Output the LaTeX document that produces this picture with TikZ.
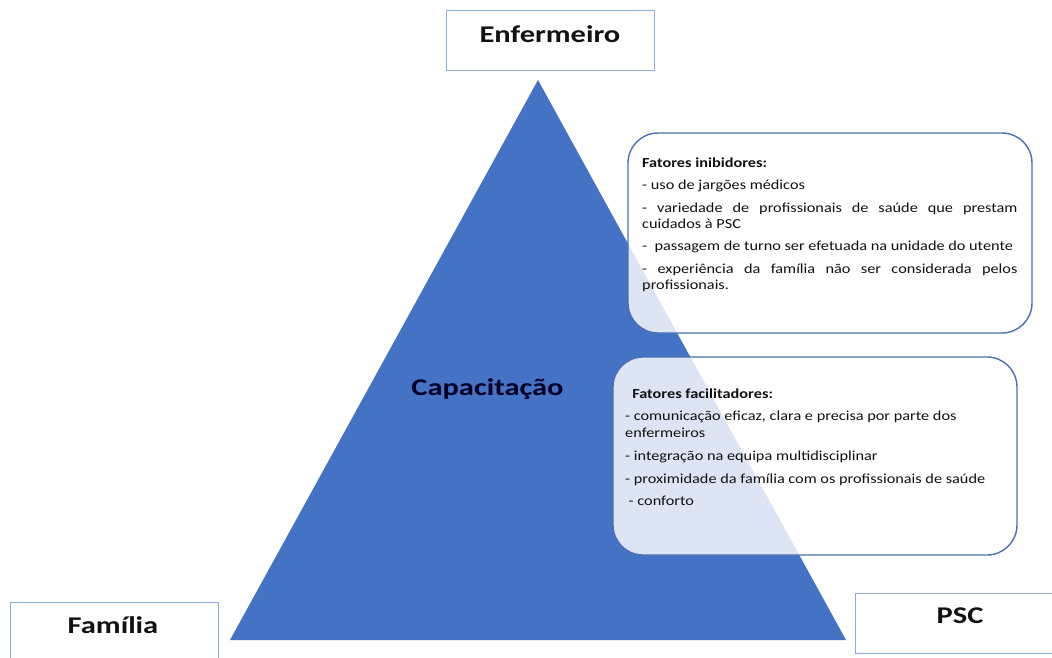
\documentclass[tikz,border=0pt]{standalone}
\usepackage{fontspec}
\setmainfont{Carlito}
\definecolor{triblue}{HTML}{4472C4}
\definecolor{edgeblue}{HTML}{8FAADC}
\definecolor{boxedge}{HTML}{4A6FB5}
\definecolor{labelink}{HTML}{111111}
\newcommand{\widelabel}[1]{\scalebox{1.27}[1]{\fontsize{24}{28}\selectfont\bfseries #1}}
\begin{document}
\begin{tikzpicture}[x=1pt,y=-1pt,
  labelbox/.style={draw=edgeblue,line width=1pt,fill=white},
  labeltext/.style={anchor=base,inner sep=0pt,text=labelink},
  softbox/.style={draw=boxedge,line width=1.4pt,fill=white,fill opacity=0.82,rounded corners=30pt},
  boxtext/.style={anchor=north west,inner sep=0pt,text=labelink}
]
\useasboundingbox (0,0) rectangle (1052,657);
\fill[white] (0,0) rectangle (1052,657);
% triangle
\fill[triblue] (538,80) coordinate (apex) -- (230,640) coordinate (bl) -- (846,640) coordinate (br) -- cycle;
\node[labeltext,text=black!85!blue] (cap) at (487.5,395) {\widelabel{Capacitação}};
% label boxes
\draw[labelbox] (446,10) rectangle (654,70);
\node[labeltext] (enf) at (550,42) {\widelabel{Enfermeiro}};
\draw[labelbox] (10,602) rectangle (218,662);
\node[labeltext] (fam) at (113,633) {\widelabel{Família}};
\draw[labelbox] (855,593) rectangle (1058,653);
\node[labeltext] (psc) at (960,623) {\widelabel{PSC}};
% factor boxes
\draw[softbox] (628,133) rectangle (1032,333);
\node[boxtext] (inib) at (642,157.5) {\scalebox{1.18}[1]{\parbox[t]{318pt}{%
\fontsize{13.8}{16.4}\selectfont\setlength{\parskip}{6pt}\setlength{\parindent}{0pt}%
\hyphenpenalty=10000\exhyphenpenalty=10000\emergencystretch=3em
{\bfseries Fatores inibidores:}\par
- uso de jargões médicos\par
- variedade de profissionais de saúde que prestam cuidados à PSC\par
-\ \ passagem de turno ser efetuada na unidade do utente\par
- experiência da família não ser considerada pelos profissionais.\par}}};
\draw[softbox] (613,357) rectangle (1017,555);
\node[boxtext] (facil) at (625,388.5) {\scalebox{1.18}[1]{\parbox[t]{310pt}{%
\fontsize{13.8}{17}\selectfont\setlength{\parskip}{5.6pt}\setlength{\parindent}{0pt}\raggedright
\hyphenpenalty=10000\exhyphenpenalty=10000
\hspace*{6pt}{\bfseries Fatores facilitadores:}\par
- comunicação eficaz, clara e precisa por parte dos enfermeiros\par
- integração na equipa multidisciplinar\par
- proximidade da família com os profissionais de saúde\par
\hspace*{3pt}- conforto\par}}};
\end{tikzpicture}
\end{document}
